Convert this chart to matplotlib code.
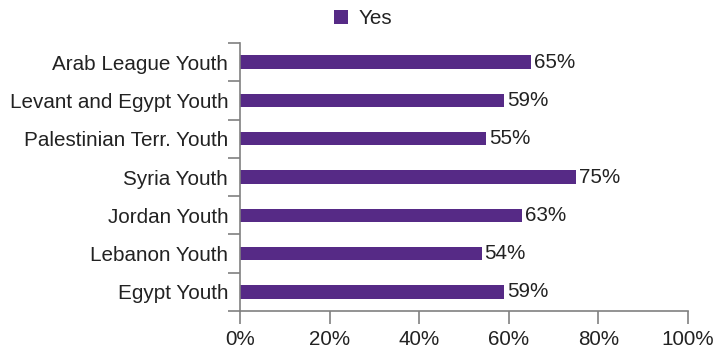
import matplotlib
matplotlib.use("Agg")
import matplotlib.pyplot as plt
from matplotlib.patches import Patch

categories = ["Arab League Youth", "Levant and Egypt Youth", "Palestinian Terr. Youth",
              "Syria Youth", "Jordan Youth", "Lebanon Youth", "Egypt Youth"]
values = [65, 59, 55, 75, 63, 54, 59]
series_name = "Yes"
xticks = [0, 20, 40, 60, 80, 100]

plt.rcParams['font.family'] = ['Liberation Sans', 'DejaVu Sans']
purple = "#562a86"
axis_col = "#808080"
text_col = "#222222"
fs = 14.9

fig = plt.figure(figsize=(7.24, 3.5), dpi=100)
ax = fig.add_axes([240/724, (350-311)/350, (688-240)/724, (311-43)/350])

ypos = list(range(len(categories)))
ax.barh(ypos, values, height=0.35, color=purple, zorder=2)
for y, v in zip(ypos, values):
    ax.text(v + 0.6, y, f"{v}%", va="center", ha="left", fontsize=fs, color=text_col)

ax.set_xlim(0, 100)
ax.set_ylim(len(categories) - 0.5, -0.5)
ax.set_xticks(xticks)
ax.set_xticklabels([f"{t}%" for t in xticks], fontsize=fs, color=text_col)
ax.set_yticks([i - 0.5 for i in range(len(categories) + 1)])
ax.set_yticklabels([])
ax.set_yticks(ypos, minor=True)
ax.set_yticklabels(categories, minor=True, fontsize=fs, color=text_col)
ax.tick_params(axis='y', which='minor', length=0, pad=8.5)
ax.tick_params(axis='y', which='major', length=9, color=axis_col, width=1.2)
ax.tick_params(axis='x', length=9, color=axis_col, width=1.2, pad=5)

for s in ["top", "right"]:
    ax.spines[s].set_visible(False)
for s in ["left", "bottom"]:
    ax.spines[s].set_color(axis_col)
    ax.spines[s].set_linewidth(1.2)

fig.legend(handles=[Patch(facecolor=purple, label=series_name)], loc="center",
           bbox_to_anchor=(363/724, 1 - 19/350), frameon=False, fontsize=fs,
           handlelength=0.65, handleheight=0.65, handletextpad=0.5)
for t in fig.legends[0].get_texts():
    t.set_color(text_col)

fig.savefig("out.png", dpi=100)
